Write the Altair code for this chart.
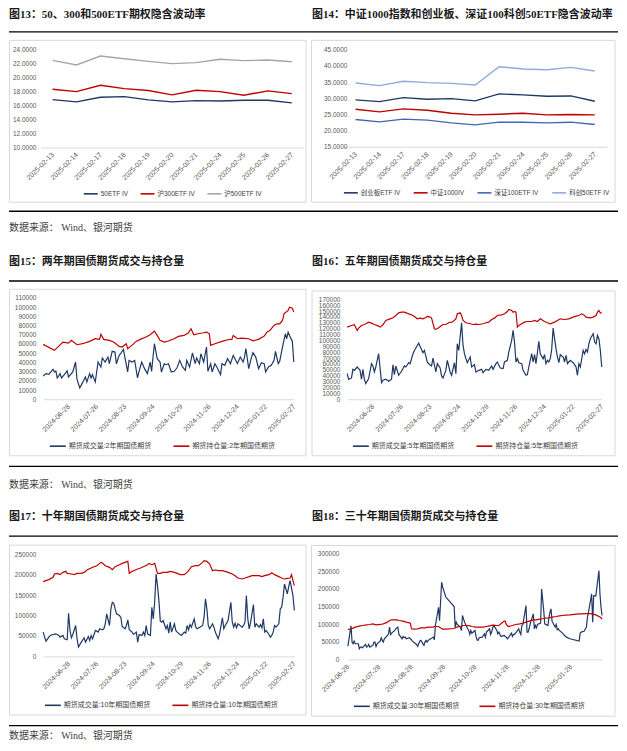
import altair as alt
import pandas as pd

SANS = "Liberation Sans, Arial, Noto Sans CJK SC, sans-serif"
SERIF = "Liberation Serif, Times New Roman, Noto Sans CJK SC, serif"
NAVY = "#1f3864"
RED = "#c00000"
GREY_TXT = "#595959"

SOURCE = "数据来源：  Wind、银河期货"
T13 = "图13：50、300和500ETF期权隐含波动率"
T14 = "图14：中证1000指数和创业板、深证100科创50ETF隐含波动率"
T15 = "图15：两年期国债期货成交与持仓量"
T16 = "图16：五年期国债期货成交与持仓量"
T17 = "图17：十年期国债期货成交与持仓量"
T18 = "图18：三十年期国债期货成交与持仓量"

# ---------------- data: ETF implied vol ----------------
ETF_DATES = ["2025-02-13", "2025-02-14", "2025-02-17", "2025-02-18", "2025-02-19", "2025-02-20",
             "2025-02-21", "2025-02-24", "2025-02-25", "2025-02-26", "2025-02-27"]
P13_NAMES = ["50ETF IV", "沪300ETF IV", "沪500ETF IV"]
P13_50 = [16.83, 16.50, 17.17, 17.26, 16.79, 16.50, 16.69, 16.64, 16.74, 16.74, 16.36]
P13_300 = [18.31, 17.97, 18.87, 18.40, 18.12, 17.50, 18.16, 17.97, 17.45, 18.07, 17.69]
P13_500 = [22.43, 21.77, 23.05, 22.67, 22.29, 21.96, 22.10, 22.58, 22.39, 22.48, 22.24]

P14_NAMES = ["创业板ETF IV", "中证1000IV", "深证100ETF IV", "科创50ETF IV"]
P14_CYB = [29.49, 28.97, 30.21, 29.69, 29.90, 29.18, 31.34, 31.03, 30.62, 30.72, 29.08]
P14_ZZ1000 = [26.61, 25.79, 26.71, 26.30, 25.38, 24.86, 25.07, 25.38, 24.86, 24.97, 24.86]
P14_SZ100 = [23.42, 22.71, 23.53, 23.22, 22.40, 21.78, 22.60, 22.60, 22.40, 22.60, 21.88]
P14_KC50 = [34.73, 33.90, 35.24, 34.83, 34.62, 34.11, 39.76, 39.04, 38.84, 39.56, 38.43]

# ---------------- data: bond futures (trading-day index, thousand lots) ----------------
BOND_LABELS = ["2024-06-28", "2024-07-26", "2024-08-23", "2024-09-24", "2024-10-29",
               "2024-11-26", "2024-12-24", "2025-01-22", "2025-02-27"]
BOND_LABEL_IDX = [18, 38, 58, 78, 98, 118, 138, 158, 178]

P15_NAMES = ["期货成交量:2年期国债期货", "期货持仓量:2年期国债期货"]
P15_VOL = [(0, 25.3), (2, 27.8), (4, 27.1), (7, 32.5), (8, 29.6), (9, 30.7), (10, 23.1), (12, 27.8), (13, 23.1),
           (15, 26.7), (17, 30.7), (18, 24.2), (21, 29.6), (23, 40.4), (24, 21.7), (26, 12.3), (28, 18.0),
           (30, 24.2), (31, 18.8), (33, 27.8), (34, 23.1), (35, 26.7), (37, 18.8), (39, 40.4), (41, 35.0),
           (42, 44.8), (44, 40.4), (46, 45.8), (47, 38.6), (49, 52.0), (51, 51.2), (52, 38.6), (54, 47.6),
           (55, 49.4), (57, 54.1), (58, 45.8), (60, 29.6), (61, 42.2), (63, 40.4), (65, 42.2), (67, 23.1),
           (68, 29.6), (70, 40.4), (72, 33.2), (74, 27.8), (76, 40.4), (77, 30.3), (79, 60.3), (81, 44.0),
           (83, 40.4), (84, 29.6), (86, 38.6), (87, 37.5), (89, 38.6), (91, 29.6), (93, 30.3), (95, 33.9),
           (97, 42.2), (99, 35.0), (101, 31.4), (102, 42.2), (104, 35.0), (106, 50.2), (108, 38.6),
           (109, 44.8), (111, 38.6), (112, 49.4), (114, 40.4), (116, 56.7), (117, 30.3), (119, 38.6),
           (120, 29.6), (122, 38.6), (124, 33.2), (126, 26.7), (127, 38.6), (129, 36.8), (131, 44.0),
           (133, 38.6), (135, 47.6), (136, 44.8), (138, 38.6), (140, 45.8), (142, 40.4), (143, 45.8),
           (144, 54.9), (146, 33.2), (148, 45.8), (149, 50.5), (151, 45.8), (153, 33.2), (155, 39.7),
           (157, 38.6), (158, 29.6), (160, 35.0), (162, 36.8), (164, 42.2), (165, 52.0), (167, 38.6),
           (168, 41.1), (170, 56.7), (172, 71.1), (173, 65.7), (174, 72.9), (175, 69.3), (177, 62.8),
           (178, 40.4)]
P15_OI = [(0, 59.6), (8, 53.1), (14, 62.1), (18, 61.0), (20, 63.9), (24, 59.2), (28, 60.3), (33, 62.8),
          (37, 65.7), (40, 65.0), (41, 70.4), (43, 65.0), (47, 63.9), (50, 62.1), (54, 57.4), (56, 56.7),
          (59, 60.3), (60, 54.9), (63, 58.5), (66, 62.8), (69, 65.0), (73, 67.5), (76, 70.0), (79, 74.0),
          (81, 69.3), (83, 63.9), (86, 62.1), (89, 63.2), (93, 65.7), (96, 68.2), (100, 69.3), (103, 71.8),
          (105, 76.5), (107, 70.0), (110, 71.1), (114, 72.2), (116, 72.9), (118, 71.1), (119, 58.5),
          (122, 60.3), (127, 62.8), (131, 64.6), (134, 65.0), (135, 69.3), (138, 65.7), (141, 66.4),
          (146, 65.7), (149, 63.5), (153, 65.0), (157, 68.6), (159, 72.9), (161, 74.7), (164, 80.1),
          (166, 81.9), (168, 81.9), (170, 85.5), (171, 92.8), (174, 96.4), (175, 100.0), (177, 98.9),
          (178, 94.6)]

P16_NAMES = ["期货成交量:5年期国债期货", "期货持仓量:5年期国债期货"]
P16_VOL = [(0, 43.5), (1, 33.9), (3, 36.2), (4, 50.8), (5, 49.1), (7, 54.8), (8, 52.0), (9, 49.1), (10, 33.9),
           (11, 50.8), (12, 33.9), (13, 26.6), (15, 35.0), (17, 60.4), (18, 56.5), (19, 46.3), (20, 54.8),
           (22, 77.4), (24, 28.2), (25, 32.2), (27, 33.9), (29, 30.5), (31, 33.9), (32, 58.7), (33, 41.8),
           (34, 56.5), (36, 40.7), (38, 47.5), (40, 56.5), (41, 54.8), (43, 62.1), (44, 60.4), (46, 77.4),
           (47, 83.0), (50, 95.5), (51, 89.8), (53, 79.1), (54, 83.0), (56, 63.3), (57, 60.4), (59, 56.5),
           (60, 70.1), (62, 46.3), (63, 60.4), (65, 53.1), (66, 39.6), (67, 36.2), (69, 49.1), (70, 66.1),
           (72, 46.3), (73, 40.7), (75, 62.1), (76, 43.5), (77, 94.3), (78, 83.0), (80, 129.9), (81, 91.5),
           (82, 77.4), (83, 68.9), (84, 62.1), (86, 71.8), (87, 54.8), (89, 58.7), (90, 46.3), (92, 49.1),
           (94, 50.8), (95, 45.2), (97, 50.8), (99, 49.1), (101, 56.5), (102, 50.8), (104, 60.4),
           (105, 63.3), (107, 53.1), (109, 52.0), (110, 63.3), (112, 66.1), (113, 80.2), (115, 100.0),
           (116, 117.0), (117, 97.2), (118, 63.3), (119, 68.9), (120, 62.1), (122, 60.4), (123, 49.1),
           (125, 40.7), (126, 41.8), (127, 54.8), (129, 77.4), (130, 63.3), (131, 75.7), (132, 60.4),
           (133, 79.1), (134, 98.3), (135, 77.4), (137, 68.9), (138, 75.7), (139, 60.4), (140, 66.1),
           (141, 63.3), (142, 68.9), (143, 84.7), (144, 121.0), (146, 85.9), (147, 71.8), (148, 62.1),
           (149, 75.7), (151, 71.8), (152, 63.3), (153, 74.6), (154, 60.4), (155, 63.3), (156, 66.1),
           (158, 62.1), (159, 58.7), (160, 54.8), (161, 40.7), (162, 60.4), (163, 54.8), (165, 83.0),
           (166, 77.4), (167, 84.7), (168, 80.2), (169, 94.3), (170, 102.8), (172, 111.3), (173, 97.2),
           (174, 94.3), (175, 108.5), (176, 102.8), (177, 83.0), (178, 54.8)]
P16_OI = [(0, 122.6), (3, 125.4), (5, 126.6), (7, 116.9), (8, 120.9), (10, 125.4), (12, 127.1), (13, 128.3),
          (15, 131.1), (17, 129.4), (19, 127.1), (22, 124.3), (23, 122.6), (25, 126.6), (27, 133.9),
          (30, 136.7), (32, 138.4), (34, 142.4), (36, 146.9), (38, 148.0), (40, 148.0), (43, 145.2),
          (45, 143.5), (47, 140.7), (49, 136.7), (51, 137.9), (53, 136.7), (55, 139.0), (56, 140.7),
          (58, 139.6), (59, 137.9), (61, 119.8), (62, 118.7), (64, 121.5), (66, 125.4), (67, 127.1),
          (69, 127.1), (71, 130.0), (73, 131.1), (74, 132.2), (76, 136.7), (77, 145.2), (79, 146.9),
          (80, 142.4), (81, 133.9), (83, 130.0), (86, 128.3), (88, 127.1), (90, 127.7), (92, 127.1),
          (95, 128.3), (97, 130.0), (99, 131.1), (101, 135.6), (103, 137.9), (105, 142.4), (108, 143.5),
          (110, 145.2), (112, 149.2), (113, 152.6), (115, 150.9), (116, 148.0), (117, 149.2), (118, 148.0),
          (119, 122.6), (120, 125.4), (122, 128.3), (124, 131.1), (126, 132.2), (129, 132.2), (131, 133.9),
          (133, 132.2), (135, 136.7), (138, 132.2), (140, 130.0), (142, 128.3), (145, 131.1), (147, 133.9),
          (149, 136.7), (152, 135.6), (155, 136.7), (158, 139.6), (160, 141.3), (162, 142.4), (164, 145.2),
          (166, 142.4), (167, 139.6), (170, 138.4), (172, 139.6), (174, 142.4), (175, 148.0), (176, 150.9),
          (177, 146.9), (178, 146.9)]

P17_NAMES = ["期货成交量:10年期国债期货", "期货持仓量:10年期国债期货"]
P17_VOL = [(0, 59.3), (1, 47.1), (2, 37.3), (4, 47.1), (5, 51.2), (7, 53.6), (9, 55.2), (11, 51.2), (12, 47.1),
           (14, 51.2), (15, 43.0), (17, 40.6), (18, 105.6), (19, 63.3), (20, 45.5), (21, 53.6), (23, 75.5),
           (24, 43.0), (25, 22.7), (27, 34.9), (29, 45.5), (30, 34.9), (32, 48.7), (33, 39.0), (34, 51.2),
           (35, 43.0), (37, 63.3), (39, 59.3), (40, 67.4), (42, 65.0), (43, 67.4), (44, 79.6), (45, 103.9),
           (47, 75.5), (48, 116.1), (49, 132.4), (50, 129.9), (51, 116.1), (52, 103.9), (54, 99.9),
           (55, 95.8), (56, 73.1), (58, 67.4), (59, 75.5), (60, 89.3), (61, 65.0), (63, 59.3), (64, 53.6),
           (66, 59.3), (67, 34.9), (68, 53.6), (70, 51.2), (71, 59.3), (72, 51.2), (73, 75.5), (74, 55.2),
           (76, 51.2), (77, 120.2), (78, 91.8), (79, 132.4), (80, 201.4), (81, 173.0), (82, 136.4),
           (83, 86.1), (84, 83.6), (85, 87.7), (87, 67.4), (88, 75.5), (89, 56.8), (90, 83.6), (91, 59.3),
           (93, 79.6), (94, 63.3), (95, 59.3), (97, 53.6), (98, 51.2), (100, 59.3), (101, 56.8), (102, 75.5),
           (103, 65.0), (104, 77.9), (105, 71.4), (107, 91.8), (108, 73.1), (109, 67.4), (111, 71.4),
           (113, 75.5), (114, 95.8), (115, 140.4), (116, 116.1), (117, 75.5), (118, 67.4), (120, 79.6),
           (121, 71.4), (122, 59.3), (123, 51.2), (124, 43.0), (125, 55.2), (127, 94.2), (128, 67.4),
           (129, 75.5), (130, 81.2), (131, 87.7), (133, 132.4), (134, 83.6), (135, 71.4), (136, 81.2),
           (137, 69.8), (138, 79.6), (141, 71.4), (142, 75.5), (143, 83.6), (144, 148.6), (145, 91.8),
           (146, 67.4), (147, 83.6), (149, 126.7), (150, 71.4), (151, 79.6), (153, 71.4), (154, 77.9),
           (155, 69.8), (156, 91.8), (157, 59.3), (158, 63.3), (160, 53.6), (161, 47.1), (162, 51.2),
           (163, 59.3), (164, 75.5), (165, 71.4), (167, 79.6), (168, 116.1), (169, 120.2), (170, 144.5),
           (171, 177.0), (173, 152.6), (174, 170.5), (175, 185.1), (177, 148.6), (178, 112.0)]
P17_OI = [(0, 182.7), (2, 185.1), (4, 187.6), (7, 193.3), (8, 201.4), (10, 203.0), (12, 199.8), (14, 205.4),
          (16, 207.9), (17, 203.0), (20, 201.4), (22, 199.8), (24, 203.0), (27, 203.0), (29, 205.4),
          (31, 211.1), (34, 216.0), (36, 219.2), (38, 221.7), (41, 229.8), (42, 228.2), (44, 221.7),
          (47, 217.6), (49, 211.9), (51, 219.2), (54, 224.1), (56, 227.4), (58, 229.8), (60, 232.2),
          (61, 203.0), (63, 207.9), (64, 209.5), (67, 213.6), (69, 216.0), (71, 219.2), (74, 224.1),
          (75, 227.4), (77, 224.1), (79, 227.4), (81, 203.0), (83, 203.0), (85, 205.4), (88, 205.4),
          (90, 207.9), (93, 205.4), (95, 203.0), (97, 199.8), (100, 199.8), (102, 205.4), (104, 213.6),
          (105, 219.2), (108, 221.7), (110, 221.7), (113, 229.8), (114, 233.9), (116, 232.2), (118, 225.7),
          (120, 209.5), (122, 211.1), (124, 209.5), (127, 209.5), (129, 207.9), (131, 205.4), (134, 201.4),
          (136, 197.3), (138, 191.6), (141, 189.2), (143, 191.6), (146, 194.9), (148, 197.3), (150, 197.3),
          (153, 197.3), (155, 194.9), (157, 197.3), (160, 199.8), (162, 204.6), (164, 199.8), (167, 194.9),
          (169, 191.6), (171, 189.2), (173, 190.8), (175, 191.6), (176, 199.8), (177, 185.1), (178, 172.9)]

# 30-year: calendar days after 2024-06-28, thousand lots
T30_LABELS = ["2024-06-28", "2024-07-28", "2024-08-28", "2024-09-28", "2024-10-28",
              "2024-11-28", "2024-12-28", "2025-01-28"]
T30_LABEL_DAY = [0, 30, 61, 92, 122, 153, 183, 214]
P18_NAMES = ["期货成交量:30年期国债期货", "期货持仓量:30年期国债期货"]
P18_VOL = [(0, 37.7), (3, 95.3), (4, 49.1), (5, 44.3), (6, 51.9), (7, 44.3), (10, 44.3), (11, 30.2), (12, 34.9),
           (13, 34.9), (14, 33.0), (17, 42.5), (18, 34.9), (19, 36.8), (20, 42.5), (21, 34.9), (24, 39.6),
           (25, 49.1), (26, 49.1), (27, 36.8), (28, 44.3), (31, 51.9), (32, 61.3), (33, 53.8), (34, 49.1),
           (35, 58.5), (38, 67.9), (39, 72.6), (40, 91.5), (41, 70.7), (42, 74.5), (45, 82.1), (46, 86.8),
           (47, 89.6), (48, 91.5), (49, 70.7), (52, 58.5), (53, 65.1), (54, 61.3), (55, 63.2), (56, 58.5),
           (59, 61.3), (60, 58.5), (61, 55.7), (62, 51.9), (63, 49.1), (66, 42.5), (67, 36.8), (68, 44.3),
           (69, 51.9), (70, 53.8), (73, 39.6), (74, 49.1), (75, 53.8), (76, 49.1), (77, 53.8), (82, 63.2),
           (83, 55.7), (84, 96.2), (87, 148.0), (88, 110.0), (90, 219.0), (91, 205.0), (94, 177.0),
           (102, 150.0), (103, 91.5), (104, 105.7), (105, 99.1), (108, 91.5), (109, 82.1), (110, 124.5),
           (111, 115.1), (112, 105.7), (115, 86.8), (116, 82.1), (117, 70.7), (118, 82.1), (119, 74.5),
           (122, 82.1), (123, 65.1), (124, 55.7), (125, 53.8), (126, 61.3), (129, 63.2), (130, 67.9),
           (131, 72.6), (132, 63.2), (133, 77.4), (136, 86.8), (137, 70.7), (138, 77.4), (139, 89.6),
           (140, 96.2), (143, 82.1), (144, 72.6), (145, 77.4), (146, 70.7), (147, 65.1), (150, 67.9),
           (151, 65.1), (152, 63.2), (153, 58.5), (154, 61.3), (157, 74.5), (158, 65.1), (159, 70.7),
           (160, 70.7), (161, 74.5), (164, 86.8), (165, 77.4), (166, 70.7), (167, 96.2), (168, 99.1),
           (171, 152.8), (172, 77.4), (173, 77.4), (174, 86.8), (175, 100.9), (178, 129.2), (179, 86.8),
           (180, 96.2), (181, 89.6), (182, 99.1), (185, 102.8), (186, 200.0), (188, 138.7), (189, 100.9),
           (192, 96.2), (193, 117.9), (194, 134.0), (195, 143.4), (196, 108.5), (199, 91.5), (200, 99.1),
           (201, 84.0), (202, 86.8), (203, 82.1), (206, 74.5), (207, 70.7), (208, 67.9), (209, 65.1),
           (210, 63.2), (213, 58.5), (222, 51.9), (223, 74.5), (224, 77.4), (227, 80.2), (228, 86.8),
           (229, 91.5), (230, 119.8), (231, 134.0), (234, 185.8), (235, 105.7), (236, 181.1), (237, 181.1),
           (238, 180.2), (241, 251.9), (242, 185.8), (243, 148.1), (244, 124.5)]
P18_OI = [(0, 84.9), (3, 86.8), (5, 88.7), (7, 91.5), (11, 94.3), (14, 96.2), (18, 98.1), (21, 99.1), (24, 100.9),
          (27, 98.1), (31, 99.1), (34, 100.9), (38, 105.7), (40, 110.4), (42, 112.3), (47, 112.3), (49, 110.4),
          (53, 108.5), (56, 105.7), (59, 103.8), (60, 102.8), (61, 86.8), (63, 85.8), (67, 86.8), (70, 89.6),
          (74, 89.6), (77, 91.5), (82, 91.5), (83, 93.4), (87, 93.4), (88, 91.5), (91, 85.8), (94, 85.8),
          (102, 87.7), (104, 91.5), (108, 93.4), (110, 96.2), (115, 96.2), (117, 95.3), (119, 93.4),
          (123, 91.5), (126, 91.5), (130, 91.5), (133, 93.4), (136, 95.3), (139, 97.2), (143, 96.2),
          (145, 96.2), (150, 108.5), (151, 108.5), (152, 99.1), (154, 93.4), (158, 96.2), (161, 99.1),
          (165, 100.9), (168, 102.8), (171, 105.7), (174, 108.5), (178, 112.3), (181, 112.3), (185, 115.1),
          (188, 116.1), (189, 117.0), (193, 117.9), (196, 119.8), (200, 121.7), (203, 123.6), (206, 124.5),
          (209, 125.5), (213, 126.4), (222, 129.2), (224, 129.2), (228, 130.1), (231, 130.1), (235, 129.2),
          (238, 126.4), (241, 121.7), (243, 118.0), (244, 114.0)]

# ---------------- helpers ----------------
ONE = pd.DataFrame({"k": [0]})


def text_layer(txt, x, y, font, size, weight, color):
    return alt.Chart(ONE).mark_text(align="left", baseline="middle", font=font, fontSize=size,
                                    fontWeight=weight, color=color).encode(
        x=alt.value(x), y=alt.value(y), text=alt.value(txt))


def hrule(x0, x1, y):
    return alt.Chart(ONE).mark_rule(color="#000000", strokeWidth=1.3).encode(
        x=alt.value(x0), x2=alt.value(x1), y=alt.value(y))


def box(x0, y0, x1, y1):
    return alt.Chart(ONE).mark_rect(fillOpacity=0, stroke="#d9d9d9", strokeWidth=1).encode(
        x=alt.value(x0), x2=alt.value(x1), y=alt.value(y0), y2=alt.value(y1))


def lookup_expr(keys, labels):
    ks = ",".join(str(k) for k in keys)
    ls = ",".join("'" + s + "'" for s in labels)
    return "[" + ls + "][indexof([" + ks + "], datum.value)]"


def x_enc(dom, rng, vals, expr, off):
    return alt.X("x", type="quantitative",
                 scale=alt.Scale(domain=dom, range=rng, nice=False, zero=False),
                 axis=alt.Axis(title=None, values=vals, labelExpr=expr, labelAngle=-45, labelAlign="right",
                               labelBaseline="middle", labelPadding=6, labelFont=SANS, labelFontSize=7,
                               labelColor=GREY_TXT, domain=True, domainColor="#d9d9d9", domainWidth=1,
                               ticks=False, tickSize=0, grid=False, offset=off, labelOverlap=False,
                               labelFlush=False, labelBound=False))


def y_enc(dom, rng, vals, fmt, off):
    return alt.Y("value", type="quantitative",
                 scale=alt.Scale(domain=dom, range=rng, nice=False, zero=False),
                 axis=alt.Axis(title=None, values=vals, format=fmt, labelFont=SANS, labelFontSize=6.5,
                               labelColor=GREY_TXT, domain=False, ticks=False, tickSize=0, grid=False,
                               offset=off, labelPadding=2, labelOverlap=False, labelFlush=False,
                               labelBound=False))


def color_enc(names, colors, lx, ly, sym, cp, fs):
    return alt.Color("series", type="nominal", scale=alt.Scale(domain=names, range=colors),
                     legend=alt.Legend(title=None, orient="none", legendX=lx, legendY=ly,
                                       direction="horizontal", symbolType="stroke", symbolSize=sym * sym,
                                       symbolStrokeWidth=1.6, labelFont=SANS, labelFontSize=fs,
                                       labelColor="#404040", labelOffset=2, columnPadding=cp, padding=0,
                                       labelLimit=0))


def pair_frame(pairs, name, scale=1000.0):
    return pd.DataFrame({"x": [p[0] for p in pairs], "value": [p[1] * scale for p in pairs],
                         "series": name})


def panel(w, h, title, title_x, title_y, rules, bx, source_y, data_layers):
    layers = [box(*bx), hrule(0, w, rules[0]), hrule(0, w, rules[1]),
              text_layer(title, title_x, title_y, SERIF, 11, "bold", "#1a1a1a")]
    if source_y is not None:
        layers.append(text_layer(SOURCE, 0, source_y, SERIF, 10, "normal", "#404040"))
    layers += data_layers
    return alt.layer(*layers).properties(width=w, height=h)


LW, RW = 303, 308
H1, H2, H3 = 232, 255, 248

# ---------------- panel 13 ----------------
df13 = pd.concat([
    pd.DataFrame({"x": list(range(len(P13_50))), "value": P13_50, "series": P13_NAMES[0]}),
    pd.DataFrame({"x": list(range(len(P13_300))), "value": P13_300, "series": P13_NAMES[1]}),
    pd.DataFrame({"x": list(range(len(P13_500))), "value": P13_500, "series": P13_NAMES[2]}),
])
etf_expr = lookup_expr(list(range(len(ETF_DATES))), ETF_DATES)
l13 = alt.Chart(df13).mark_line(strokeWidth=1.4).encode(
    x=x_enc([-0.5, 10.5], [31.7, 295.7], list(range(11)), etf_expr, -(H1 - 138.7)),
    y=y_enc([10, 24], [138.7, 40.3], [10, 12, 14, 16, 18, 20, 22, 24], ".4f", -29),
    color=color_enc(P13_NAMES, [NAVY, RED, "#a6a6a6"], 74, 177, 14, 8, 6.5))
p13 = panel(LW, H1, T13, 0, 6, (22.7, 202.7), (0.5, 31.3, 298, 193.7), 220, [l13])

# ---------------- panel 14 ----------------
df14 = pd.concat([
    pd.DataFrame({"x": list(range(11)), "value": P14_CYB, "series": P14_NAMES[0]}),
    pd.DataFrame({"x": list(range(11)), "value": P14_ZZ1000, "series": P14_NAMES[1]}),
    pd.DataFrame({"x": list(range(11)), "value": P14_SZ100, "series": P14_NAMES[2]}),
    pd.DataFrame({"x": list(range(11)), "value": P14_KC50, "series": P14_NAMES[3]}),
])
l14 = alt.Chart(df14).mark_line(strokeWidth=1.4).encode(
    x=x_enc([-0.5, 10.5], [32.7, 296.7], list(range(11)), etf_expr, -(H1 - 138)),
    y=y_enc([15, 45], [138, 40.7], [15, 20, 25, 30, 35, 40, 45], ".4f", -38),
    color=color_enc(P14_NAMES, [NAVY, RED, "#4068b2", "#8faadc"], 32, 176, 14, 9, 6.5))
p14 = panel(RW, H1, T14, 1, 6, (22.7, 202.7), (0.5, 31.3, 305, 193.7), None, [l14])

bond_expr = lookup_expr(BOND_LABEL_IDX, BOND_LABELS)


def bond_layers(vol, oi, names, xrng, ydom, yrng, yvals, yoff, xoff, lx, ly, cp, vals_expr=None,
                xvals=None, xdom=None):
    xe = x_enc(xdom if xdom else [0, 178], xrng, xvals if xvals else BOND_LABEL_IDX,
               vals_expr if vals_expr else bond_expr, xoff)
    ye = y_enc(ydom, yrng, yvals, "d", yoff)
    ce = color_enc(names, [NAVY, RED], lx, ly, 16, cp, 7)
    a = alt.Chart(pair_frame(vol, names[0])).mark_line(strokeWidth=1.2).encode(x=xe, y=ye, color=ce)
    b = alt.Chart(pair_frame(oi, names[1])).mark_line(strokeWidth=1.2).encode(x=xe, y=ye, color=ce)
    return [a, b]


# ---------------- panel 15 ----------------
l15 = bond_layers(P15_VOL, P15_OI, P15_NAMES, [34.3, 285.7], [0, 110000], [159.3, 57.7],
                  list(range(0, 110001, 10000)), -29, -(H2 - 159.3), 40, 197, 18)
p15 = panel(LW, H2, T15, 0, 21.7, (40.7, 226.7), (0.5, 49, 298, 216), 245, l15)

# ---------------- panel 16 ----------------
l16 = bond_layers(P16_VOL, P16_OI, P16_NAMES, [36.3, 291.7], [0, 170000], [159.3, 59],
                  list(range(0, 170001, 10000)), -31, -(H2 - 159.3), 41, 197, 18)
p16 = panel(RW, H2, T16, 1, 21.7, (40.7, 226.7), (1, 50.7, 305, 216), None, l16)

# ---------------- panel 17 ----------------
l17 = bond_layers(P17_VOL, P17_OI, P17_NAMES, [34.3, 286.3], [0, 250000], [162.3, 59.7],
                  list(range(0, 250001, 50000)), -29, -(H3 - 162.3), 35, 202, 18)
p17 = panel(LW, H3, T17, 0, 22.3, (41.7, 231.7), (0.5, 50.7, 298, 221), 242, l17)

# ---------------- panel 18 ----------------
t30_expr = lookup_expr(T30_LABEL_DAY, T30_LABELS)
l18 = bond_layers(P18_VOL, P18_OI, P18_NAMES, [37, 292], [0, 300000], [165.3, 59.3],
                  list(range(0, 300001, 50000)), -30, -(H3 - 165.3), 42, 203, 16,
                  vals_expr=t30_expr, xvals=T30_LABEL_DAY, xdom=[0, 244])
p18 = panel(RW, H3, T18, 1, 22.3, (41.7, 231.7), (0.5, 51, 305, 222.3), None, l18)


def row(a, b):
    return alt.hconcat(a, b, spacing=0, bounds="flush").resolve_scale(
        x="independent", y="independent", color="independent").resolve_legend(color="independent")


chart = alt.vconcat(row(p13, p14), row(p15, p16), row(p17, p18), spacing=0).resolve_scale(
    x="independent", y="independent", color="independent").resolve_legend(color="independent").properties(
    padding=0, background="white").configure_view(strokeWidth=0)

chart.save("out.html", embed_options={"renderer": "svg", "actions": False})
